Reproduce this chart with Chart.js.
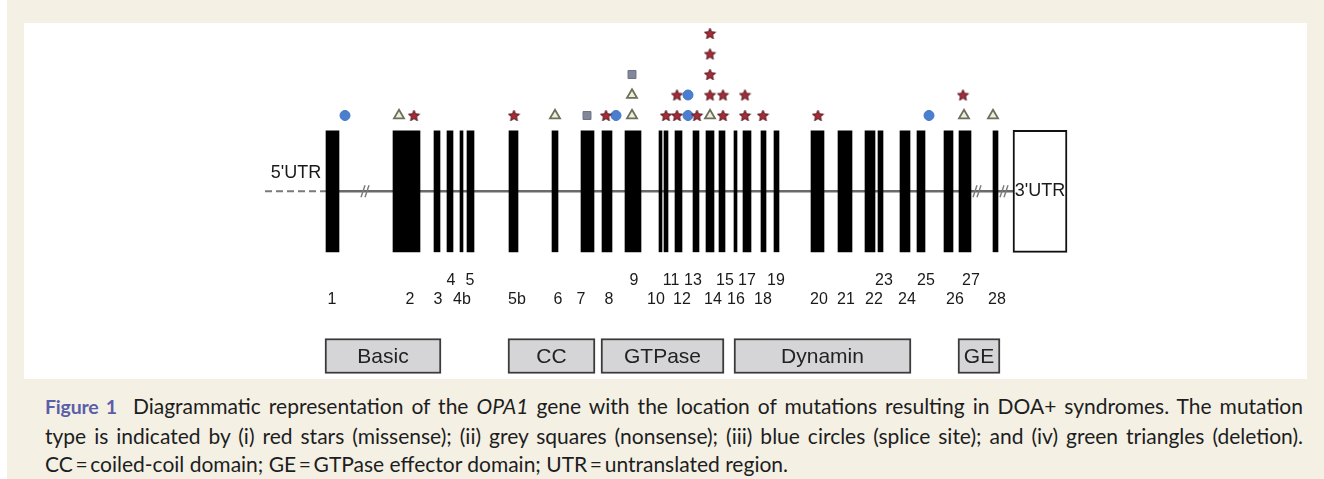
<!DOCTYPE html>
<html>
<head>
<meta charset="utf-8">
<script src="https://cdn.jsdelivr.net/npm/chart.js@4.4.1/dist/chart.umd.min.js"></script>
<style>
  html, body { margin: 0; padding: 0; }
  body { width: 1324px; height: 479px; background: #ffffff; position: relative; overflow: hidden; }
  #frame { position: absolute; left: 7px; top: 0; width: 1317px; height: 479px; background: #f4f0e4; }
  #panel { position: absolute; left: 24px; top: 23px; width: 1283px; height: 356px; background: #ffffff; }
  #cap { position: absolute; left: 45px; top: 392px; width: 1258px;
         font-family: Lato, "Open Sans", sans-serif; font-size: 21px; color: #201d1e; line-height: 28.5px; }
  #cap .j { text-align: justify; text-align-last: justify; white-space: nowrap; }
  #cap .fig { color: #5b5ea8; font-weight: bold; font-size: 19.5px; letter-spacing: -0.2px; }
</style>
</head>
<body>
<div id="frame"></div>
<div id="panel"><canvas id="c" width="1283" height="356"></canvas></div>
<div id="cap">
  <div class="j"><span class="fig">Figure 1</span>&nbsp; Diagrammatic representation of the <i>OPA1</i> gene with the location of mutations resulting in DOA+ syndromes. The mutation</div>
  <div class="j">type is indicated by (i) red stars (missense); (ii) grey squares (nonsense); (iii) blue circles (splice site); and (iv) green triangles (deletion).</div>
  <div>CC&thinsp;=&thinsp;coiled-coil domain; GE&thinsp;=&thinsp;GTPase effector domain; UTR&thinsp;=&thinsp;untranslated region.</div>
</div>
<script>
// ---------- data (diagram positions along the gene) ----------
const exonNames = ['1','2','3','4','4b','5','5b','6','7','8','9','10','11','12','13','14','15','16','17','18','19','20','21','22','23','24','25','26','27','28'];
const exonStart = [326,393,434,447,460,467,509,552,581,602,625,659,664,675,693,706,719,734,743,761,774,811,838,865,878,900,917,944,959,993];
const exonEnd   = [339,420,440,453,463,474,518,558,594,612,641,662,668,682,699,714,725,737,751,766,779,824,852,875,883,910,925,953,971,998];
const labelX    = [332,410,438,451,462,470,517,558,581,609,634,656,671,682,693,713,725,736,747,763,776,819,846,874,884,907,926,955,971,997];
const labelRow  = [2,2,2,1,2,1,2,2,2,2,1,2,1,2,1,2,1,2,1,2,1,2,2,2,1,2,1,2,1,2];

const missenseX     = [414,514,606,666,677,697,723,745,763,818,677,710,723,745,963,710,710,710];
const missenseLevel = [1,1,1,1,1,1,1,1,1,1,2,2,2,2,2,3,4,5];
const nonsenseX     = [587,632];
const nonsenseLevel = [1,3];
const spliceX       = [345,616,688,688,929];
const spliceLevel   = [1,1,1,2,1];
const deletionX     = [399,555,632,632,710,964,993];
const deletionLevel = [1,1,1,2,1,1,1];

const domainNames = ['Basic','CC','GTPase','Dynamin','GE'];
const domainStart = [325,508,601,734,958];
const domainEnd   = [441,595,724,911,1000];

const utr5 = [265,326];
const intron = [326,1013];
const utr3 = [1013,1067];
const breakX = [365,977,1004];

// ---------- layout (track positions in level units) ----------
const TRACK = { gene: -2.70, label1: -7.07, label2: -7.97, domain: -10.73, utr5Label: -1.82, utr3Label: -2.68 };
const pts = (xs, ys) => xs.map((v, i) => ({ x: v, y: ys[i] }));

// filled star point style
function starImage(size) {
  const c = document.createElement('canvas');
  c.width = size; c.height = size;
  const g = c.getContext('2d');
  const cx = size / 2, cy = size / 2 + 0.5, R = size / 2 - 0.6, r = R * 0.45;
  g.beginPath();
  for (let i = 0; i < 10; i++) {
    const a = -Math.PI / 2 + i * Math.PI / 5;
    const rr = i % 2 === 0 ? R : r;
    g.lineTo(cx + rr * Math.cos(a), cy + rr * Math.sin(a));
  }
  g.closePath();
  g.fillStyle = '#a22d38';
  g.fill();
  g.lineWidth = 1;
  g.strokeStyle = '#5e1c24';
  g.stroke();
  return c;
}
const star = starImage(13);

const diagramText = {
  id: 'diagramText',
  afterDatasetsDraw(chart) {
    const { ctx, scales: { x, y } } = chart;
    ctx.save();
    ctx.textAlign = 'center';
    ctx.textBaseline = 'middle';
    // exon numbers
    ctx.font = '16px Arial, "Liberation Sans", sans-serif';
    ctx.fillStyle = '#1a1a1a';
    exonNames.forEach((n, i) => {
      ctx.fillText(n, x.getPixelForValue(labelX[i]), y.getPixelForValue(labelRow[i] === 1 ? TRACK.label1 : TRACK.label2));
    });
    // domain names
    ctx.font = '21px Arial, "Liberation Sans", sans-serif';
    ctx.fillStyle = '#222';
    domainNames.forEach((n, i) => {
      ctx.fillText(n, x.getPixelForValue((domainStart[i] + domainEnd[i]) / 2), y.getPixelForValue(TRACK.domain) + 1);
    });
    // UTR labels
    ctx.font = '18px Arial, "Liberation Sans", sans-serif';
    ctx.fillStyle = '#1a1a1a';
    ctx.fillText("5'UTR", x.getPixelForValue(296), y.getPixelForValue(TRACK.utr5Label));
    ctx.fillText("3'UTR", x.getPixelForValue((utr3[0] + utr3[1]) / 2), y.getPixelForValue(TRACK.utr3Label));
    // break marks
    ctx.strokeStyle = '#7a7a7a';
    ctx.lineWidth = 1.4;
    breakX.forEach(bx => {
      const px = x.getPixelForValue(bx), py = y.getPixelForValue(TRACK.gene);
      for (let k = 0; k < 2; k++) {
        ctx.beginPath();
        ctx.moveTo(px - 4 + k * 4, py + 6);
        ctx.lineTo(px + 0 + k * 4, py - 6);
        ctx.stroke();
      }
    });
    ctx.restore();
  }
};

new Chart(document.getElementById('c'), {
  type: 'scatter',
  data: {
    datasets: [
      { type: 'line', data: pts(utr5, [TRACK.gene, TRACK.gene]), borderColor: '#7a7a7a', borderWidth: 2, borderDash: [7, 4], pointRadius: 0, order: 5 },
      { type: 'line', data: pts(intron, [TRACK.gene, TRACK.gene]), borderColor: '#6a6a6a', borderWidth: 2.5, pointRadius: 0, order: 5 },
      { type: 'bar', indexAxis: 'y', grouped: false, barThickness: 121,
        data: exonStart.map((s, i) => ({ x: [s, exonEnd[i]], y: TRACK.gene })),
        backgroundColor: '#000', borderWidth: 0, order: 3 },
      { type: 'bar', indexAxis: 'y', grouped: false, barThickness: 122,
        data: [{ x: utr3, y: TRACK.gene }],
        backgroundColor: '#fff', borderColor: '#111', borderWidth: 2, borderSkipped: false, order: 3 },
      { type: 'bar', indexAxis: 'y', grouped: false, barThickness: 35,
        data: domainStart.map((s, i) => ({ x: [s, domainEnd[i]], y: TRACK.domain })),
        backgroundColor: '#d5d5d7', borderColor: '#3a3a3a', borderWidth: 2, borderSkipped: false, order: 3 },
      { label: 'missense', data: pts(missenseX, missenseLevel), pointStyle: star, pointRadius: 6, order: 1 },
      { label: 'nonsense', data: pts(nonsenseX, nonsenseLevel), pointStyle: 'rect', pointRadius: 5.6,
        backgroundColor: '#81889a', borderColor: '#6b7182', pointBorderWidth: 1, order: 1 },
      { label: 'splice', data: pts(spliceX, spliceLevel), pointStyle: 'circle', pointRadius: 5,
        backgroundColor: '#4a7fcf', borderColor: '#4476c4', pointBorderWidth: 1, order: 1 },
      { label: 'deletion', data: pts(deletionX, deletionLevel), pointStyle: 'triangle', pointRadius: 5.8,
        backgroundColor: '#eeeedb', borderColor: '#6c6f5c', pointBorderWidth: 1.8, order: 1 }
    ]
  },
  options: {
    responsive: false,
    animation: false,
    events: [],
    layout: { padding: 0, autoPadding: false },
    plugins: { legend: { display: false }, tooltip: { enabled: false } },
    scales: {
      x: { type: 'linear', min: 24, max: 1307, display: false, offset: false, grace: 0 },
      y: { type: 'linear', min: -11.854, max: 5.512, display: false, offset: false, grace: 0 }
    }
  },
  plugins: [diagramText]
});
</script>
</body>
</html>
